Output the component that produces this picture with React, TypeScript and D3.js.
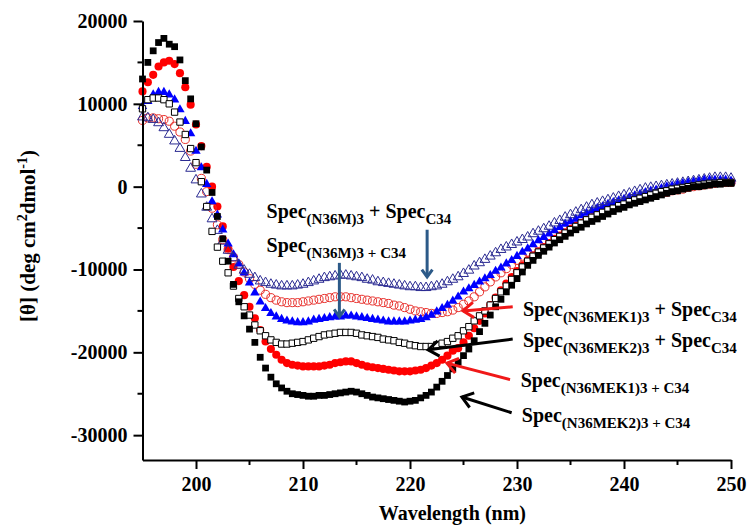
import React, { useEffect, useRef } from "react";
import * as d3 from "d3";

// wavelength grid of the CD scans (nm), one reading every 0.5 nm
const wavelengths = d3.range(195, 250.5, 0.5);

// Spec(N36MEK2)3+C34 - filled black squares
const mek2Complex = [
  13000, 15000, 16400, 17400, 17900, 17200, 16900, 15300, 12800, 10600,
  7600, 4800, 2000, -700, -3600, -6300, -9000, -11800, -13900, -15600,
  -17200, -18800, -20600, -21900, -23000, -23800, -24300, -24700, -25000, -25100,
  -25200, -25300, -25300, -25200, -25200, -25100, -25000, -24900, -24800, -24700,
  -24800, -25000, -25200, -25400, -25500, -25600, -25700, -25800, -25900, -26000,
  -25900, -25800, -25500, -25200, -24800, -24200, -23500, -22800, -22000, -21200,
  -20400, -19600, -18600, -17500, -16500, -15500, -14500, -13600, -12700, -11900,
  -11100, -10300, -9500, -8900, -8300, -7800, -7300, -6800, -6400, -6000,
  -5600, -5200, -4900, -4500, -4200, -3900, -3600, -3300, -3000, -2700,
  -2500, -2200, -2000, -1800, -1600, -1400, -1200, -1000, -800, -600,
  -500, -300, -200, 0, 0, 100, 200, 300, 300, 400,
  400,
];

// Spec(N36MEK1)3+C34 - filled red circles
const mek1Complex = [
  11500, 12600, 13500, 14500, 15000, 15200, 14800, 13700, 12000, 9900,
  7500, 4900, 2400, 0, -2400, -4800, -7500, -9700, -11400, -13100,
  -14500, -15900, -17300, -18700, -19600, -20300, -20900, -21300, -21500, -21600,
  -21700, -21700, -21700, -21700, -21600, -21500, -21300, -21200, -21100, -21100,
  -21300, -21500, -21700, -21800, -21900, -22000, -22100, -22200, -22300, -22300,
  -22300, -22200, -22100, -21900, -21600, -21300, -20900, -20400, -19800, -19500,
  -18800, -18000, -17100, -16200, -15300, -14300, -13400, -12500, -11700, -10900,
  -10200, -9500, -8900, -8300, -7800, -7300, -6800, -6300, -5900, -5500,
  -5100, -4700, -4400, -4000, -3700, -3400, -3100, -2800, -2600, -2300,
  -2100, -1800, -1600, -1400, -1200, -1000, -800, -650, -500, -350,
  -200, -100, 0, 100, 200, 300, 400, 400, 500, 500,
  500,
];

// Spec(N36M)3+C34 - filled blue triangles
const n36mComplex = [
  9700, 10300, 11100, 11400, 11400, 11100, 10500, 9300, 7900, 6400,
  4300, 2300, 300, -1800, -3400, -5200, -6900, -8200, -9300, -10400,
  -11600, -12800, -13900, -14700, -15300, -15700, -16000, -16200, -16300, -16400,
  -16400, -16300, -16100, -16000, -15900, -15800, -15700, -15700, -15600, -15600,
  -15700, -15800, -15900, -16000, -16100, -16200, -16300, -16300, -16300, -16300,
  -16200, -16100, -16000, -15800, -15500, -15100, -14700, -14300, -13800, -13300,
  -12700, -12300, -11900, -11500, -11100, -10700, -10200, -9800, -9300, -8900,
  -8400, -7900, -7500, -7000, -6500, -6100, -5700, -5300, -4900, -4500,
  -4200, -3900, -3500, -3200, -2900, -2600, -2400, -2100, -1900, -1700,
  -1500, -1300, -1100, -900, -700, -500, -400, -200, 0, 100,
  300, 400, 500, 600, 700, 800, 800, 800, 800, 800,
  700,
];

// Spec(N36MEK2)3 + SpecC34 - open black squares
const mek2Sum = [
  9400, 10500, 10700, 10700, 10500, 10000, 9000, 7800, 6300, 4600,
  2900, 600, -2400, -5400, -7300, -9000, -10400, -12000, -13500, -14500,
  -15500, -16700, -17400, -18000, -18500, -18800, -19000, -19000, -18900, -18800,
  -18700, -18500, -18300, -18100, -17900, -17800, -17700, -17600, -17600, -17600,
  -17700, -17900, -18000, -18100, -18200, -18400, -18500, -18600, -18800, -18900,
  -19100, -19200, -19300, -19300, -19300, -19100, -18900, -18700, -18300, -18000,
  -17400, -16900, -16200, -15600, -15000, -14300, -13500, -12700, -12000, -11200,
  -10400, -9700, -9000, -8400, -7900, -7400, -6900, -6400, -6000, -5600,
  -5200, -4800, -4400, -4000, -3700, -3400, -3100, -2800, -2600, -2300,
  -2100, -1800, -1600, -1400, -1200, -1000, -800, -600, -500, -300,
  -200, -100, 0, 100, 200, 300, 400, 400, 500, 500,
  500,
];

// Spec(N36MEK1)3 + SpecC34 - open red circles
const mek1Sum = [
  8000, 8300, 8300, 8200, 8100, 7900, 7300, 6600, 5700, 4300,
  2700, 1000, -600, -2600, -4600, -6400, -7600, -8500, -9400, -10300,
  -11100, -11800, -12500, -13000, -13400, -13700, -13900, -14000, -14000, -14000,
  -13900, -13800, -13700, -13600, -13500, -13400, -13300, -13300, -13300, -13400,
  -13500, -13600, -13700, -13800, -13900, -14000, -14100, -14300, -14400, -14600,
  -14800, -15000, -15100, -15200, -15300, -15300, -15200, -15100, -14900, -14600,
  -14200, -13800, -13300, -12700, -12100, -11500, -10900, -10400, -9900, -9400,
  -8900, -8400, -7900, -7500, -7000, -6600, -6200, -5800, -5400, -5100,
  -4800, -4400, -4100, -3800, -3500, -3200, -3000, -2700, -2500, -2300,
  -2100, -1900, -1700, -1500, -1300, -1100, -1000, -800, -700, -500,
  -400, -300, -100, 0, 100, 200, 300, 400, 500, 500,
  500,
];

// Spec(N36M)3 + SpecC34 - open navy triangles
const n36mSum = [
  8400, 8300, 8100, 7700, 7100, 6300, 5500, 4600, 3500, 2200,
  800, -900, -2500, -3900, -5300, -6600, -7700, -8600, -9500, -10100,
  -10600, -11000, -11400, -11600, -11800, -11900, -12000, -12000, -12000, -11900,
  -11800, -11600, -11400, -11200, -11000, -10900, -10800, -10700, -10700, -10800,
  -10900, -11000, -11200, -11300, -11500, -11600, -11700, -11800, -11900, -12000,
  -12100, -12100, -12200, -12200, -12100, -12000, -11800, -11500, -11200, -10900,
  -10500, -10100, -9600, -9200, -8800, -8400, -8000, -7600, -7300, -7000,
  -6700, -6400, -6100, -5700, -5400, -5100, -4800, -4400, -4100, -3700,
  -3400, -3100, -2800, -2500, -2200, -2000, -1800, -1600, -1400, -1200,
  -1000, -800, -600, -400, -200, -100, 0, 100, 200, 300,
  400, 500, 600, 700, 800, 900, 1000, 1100, 1100, 1100,
  1000,
];

const yMajorTicks = [-30000, -20000, -10000, 0, 10000, 20000];
const yMinorTicks = [-25000, -15000, -5000, 5000, 15000];
const xMajorTicks = [200, 210, 220, 230, 240, 250];
const xMinorTicks = [205, 215, 225, 235, 245];

const FONT = "'Liberation Serif', 'Times New Roman', serif";

const App = () => {
  const ref = useRef<SVGSVGElement>(null);

  useEffect(() => {
    document.body.style.margin = "0";
    const svg = d3.select(ref.current);
    svg.selectAll("*").remove();

    const x = d3.scaleLinear().domain([195, 250]).range([142.5, 731]);
    const y = d3.scaleLinear().domain([-33000, 20000]).range([460, 21]);

    const plot = svg.append("g");

    // series, drawn bottom to top
    const series = [
      { values: mek1Complex, shape: d3.symbolCircle, size: 52, fill: "#ff0000", stroke: "none", sw: 0 },
      { values: mek1Sum, shape: d3.symbolCircle, size: 52, fill: "none", stroke: "#e8302c", sw: 1 },
      { values: n36mComplex, shape: d3.symbolTriangle, size: 38, fill: "#0000ff", stroke: "none", sw: 0 },
      { values: n36mSum, shape: d3.symbolTriangle, size: 42, fill: "none", stroke: "#2b2b92", sw: 1 },
      { values: mek2Sum, shape: d3.symbolSquare, size: 40, fill: "#fff", stroke: "#000", sw: 1 },
      { values: mek2Complex, shape: d3.symbolSquare, size: 46, fill: "#000", stroke: "none", sw: 0 },
    ];

    series.forEach((s) => {
      const sym = d3.symbol().type(s.shape).size(s.size)();
      plot
        .append("g")
        .selectAll("path")
        .data(s.values)
        .enter()
        .append("path")
        .attr("d", sym)
        .attr("transform", (d, i) => `translate(${x(wavelengths[i])},${y(d)})`)
        .attr("fill", s.fill)
        .attr("stroke", s.stroke)
        .attr("stroke-width", s.sw);
    });

    // axes
    const axisG = svg.append("g").attr("font-family", FONT);

    const yAxis = d3
      .axisLeft(y)
      .tickValues(yMajorTicks)
      .tickSize(9)
      .tickSizeOuter(0)
      .tickPadding(6)
      .tickFormat((d) => `${d}`);
    const ya = axisG.append("g").attr("transform", `translate(${x(195)},0)`).call(yAxis);
    ya.selectAll("text").attr("font-size", 20).attr("font-weight", "bold").attr("font-family", FONT);
    ya.append("g")
      .selectAll("line")
      .data(yMinorTicks)
      .enter()
      .append("line")
      .attr("x1", 0)
      .attr("x2", -5)
      .attr("y1", (d) => y(d))
      .attr("y2", (d) => y(d))
      .attr("stroke", "#000")
      .attr("stroke-width", 2);

    const xAxis = d3
      .axisBottom(x)
      .tickValues(xMajorTicks)
      .tickSize(9)
      .tickSizeOuter(0)
      .tickPadding(8)
      .tickFormat((d) => `${d}`);
    const xa = axisG.append("g").attr("transform", `translate(0,${y(-33000)})`).call(xAxis);
    xa.selectAll("text").attr("font-size", 20).attr("font-weight", "bold").attr("font-family", FONT);
    xa.append("g")
      .selectAll("line")
      .data(xMinorTicks)
      .enter()
      .append("line")
      .attr("x1", (d) => x(d))
      .attr("x2", (d) => x(d))
      .attr("y1", 0)
      .attr("y2", 5)
      .attr("stroke", "#000")
      .attr("stroke-width", 2);

    axisG.selectAll(".domain").attr("stroke-width", 2);
    axisG.selectAll(".tick line").attr("stroke-width", 2);

    // axis titles
    svg
      .append("text")
      .attr("x", 526)
      .attr("y", 520)
      .attr("text-anchor", "end")
      .attr("font-family", FONT)
      .attr("font-weight", "bold")
      .attr("font-size", 20)
      .text("Wavelength (nm)");

    const yTitle = svg
      .append("text")
      .attr("transform", "translate(35,236) rotate(-90)")
      .attr("text-anchor", "middle")
      .attr("font-family", FONT)
      .attr("font-weight", "bold")
      .attr("font-size", 21);
    yTitle.append("tspan").text("[θ] (deg cm");
    yTitle.append("tspan").attr("font-size", 14).attr("dy", -8).text("2");
    yTitle.append("tspan").attr("dy", 8).text("dmol");
    yTitle.append("tspan").attr("font-size", 14).attr("dy", -8).text("-1");
    yTitle.append("tspan").attr("dy", 8).text(")");

    // annotations: [text, subscript?] parts, anchored in data units
    const labels = [
      { wl: 206.6, v: -3800, parts: [["Spec", 0], ["(N36M)3", 1], [" + Spec", 0], ["C34", 1]] },
      { wl: 206.6, v: -7900, parts: [["Spec", 0], ["(N36M)3 + C34", 1]] },
      { wl: 230.55, v: -15600, parts: [["Spec", 0], ["(N36MEK1)3", 1], [" + Spec", 0], ["C34", 1]] },
      { wl: 230.55, v: -19350, parts: [["Spec", 0], ["(N36MEK2)3", 1], [" + Spec", 0], ["C34", 1]] },
      { wl: 230.35, v: -24200, parts: [["Spec", 0], ["(N36MEK1)3 + C34", 1]] },
      { wl: 230.45, v: -28400, parts: [["Spec", 0], ["(N36MEK2)3 + C34", 1]] },
    ];

    labels.forEach((l) => {
      const t = svg
        .append("text")
        .attr("x", x(l.wl))
        .attr("y", y(l.v))
        .attr("font-family", FONT)
        .attr("font-weight", "bold")
        .style("white-space", "pre");
      let shift = 0;
      l.parts.forEach(([s, sub]) => {
        const target = sub ? 6 : 0;
        t.append("tspan")
          .attr("font-size", sub ? 15 : 20)
          .attr("dy", target - shift)
          .text(s as string);
        shift = target;
      });
    });

    const arrows = [
      { from: [221.6, -5200], to: [221.6, -10900], color: "#2c5a88", head: 9 },
      { from: [213.4, -9200], to: [213.4, -15700], color: "#2c5a88", head: 9 },
      { from: [229.6, -14500], to: [224.95, -15000], color: "#f01818", head: 13 },
      { from: [229.6, -18400], to: [221.7, -19700], color: "#000", head: 13 },
      { from: [229.35, -23300], to: [223.45, -21300], color: "#f01818", head: 13 },
      { from: [229.5, -27300], to: [224.85, -25400], color: "#000", head: 13 },
    ];

    arrows.forEach((a) => {
      const x1 = x(a.from[0]);
      const y1 = y(a.from[1]);
      const x2 = x(a.to[0]);
      const y2 = y(a.to[1]);
      const ang = Math.atan2(y2 - y1, x2 - x1);
      const spread = (36 * Math.PI) / 180;
      const hx1 = x2 - a.head * Math.cos(ang - spread);
      const hy1 = y2 - a.head * Math.sin(ang - spread);
      const hx2 = x2 - a.head * Math.cos(ang + spread);
      const hy2 = y2 - a.head * Math.sin(ang + spread);
      svg
        .append("line")
        .attr("x1", x1)
        .attr("y1", y1)
        .attr("x2", x2)
        .attr("y2", y2)
        .attr("stroke", a.color)
        .attr("stroke-width", 3);
      svg
        .append("path")
        .attr("d", `M${hx1},${hy1}L${x2},${y2}L${hx2},${hy2}`)
        .attr("fill", "none")
        .attr("stroke", a.color)
        .attr("stroke-width", 3)
        .attr("stroke-linejoin", "miter");
    });
  }, []);

  return <svg ref={ref} width={748} height={529} style={{ display: "block", background: "#fff" }} />;
};

export default App;
